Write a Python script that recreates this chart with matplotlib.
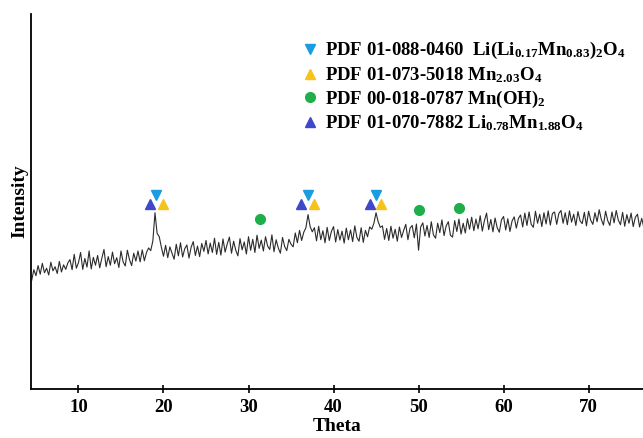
import matplotlib
matplotlib.use("Agg")
import matplotlib.pyplot as plt
from matplotlib.lines import Line2D
import numpy as np

plt.rcParams['font.family'] = ['Liberation Serif', 'DejaVu Serif']
plt.rcParams['font.weight'] = 'bold'
plt.rcParams['mathtext.fontset'] = 'custom'
plt.rcParams['mathtext.rm'] = 'Liberation Serif:bold'
plt.rcParams['mathtext.default'] = 'rm'

# XRD scan (0.25 deg steps from 4.5 deg)
theta_start = 4.5
theta_step = 0.25
intensity = [
    29.0, 31.8, 30.2, 32.9, 30.6, 33.5, 31.0, 32.2, 30.4, 33.8, 31.5, 32.6, 30.8, 34.0, 31.2, 33.1, 31.9, 33.6,
    34.5, 31.8, 35.9, 32.2, 33.7, 36.4, 31.9, 34.8, 32.5, 36.8, 32.0, 35.1, 33.0, 35.6, 32.3, 34.9,
    37.2, 32.6, 35.3, 33.0, 36.5, 33.4, 35.0, 32.4, 36.8, 33.9, 32.8, 37.0, 34.5, 32.9, 36.2, 34.1,
    36.8, 33.9, 37.1, 34.2, 36.4, 37.6, 36.9,
    39.5, 47.0, 41.5, 40.6, 37.8,
    35.4, 38.3, 35.0, 37.9, 36.2, 34.6, 38.6, 35.5, 39.0, 35.2, 37.4, 38.4, 34.9, 37.8, 39.3, 35.6, 38.1, 35.3, 38.8, 36.7,
    39.6, 36.0, 38.9, 36.4, 40.2, 35.9, 39.1, 35.7, 40.0, 36.5, 38.7, 40.5, 36.2, 39.4, 37.0, 35.5, 40.1, 37.1, 39.2, 36.0,
    40.6, 37.0, 39.9, 36.4, 41.0, 37.5, 39.7, 36.8, 40.6, 38.1, 37.2, 41.1, 36.6, 39.8, 37.6, 36.2, 40.4, 38.0, 36.9, 39.9,
    38.6, 37.9, 41.6, 39.0, 42.3, 39.6, 41.8,
    43.0, 46.5, 43.3, 41.9,
    43.0, 39.5, 43.4, 39.8, 42.2, 39.0, 43.1, 39.6, 42.0, 43.3, 39.2, 42.5, 39.7, 42.1, 38.9, 42.9, 39.8, 42.4, 39.3, 43.5,
    40.4, 39.4, 43.0, 39.1, 42.3, 40.6, 43.2, 42.6,
    44.2, 47.0, 44.6, 43.1,
    43.5, 39.9, 42.8, 39.6, 43.4, 40.2, 42.6, 39.4, 43.2, 40.4, 42.3, 43.9, 39.8, 42.9, 43.6, 40.3, 44.0,
    37.0, 43.2,
    44.3, 40.8, 43.6, 40.4, 44.6, 41.1, 40.2, 44.2, 41.7, 45.1, 40.9, 43.5, 44.6, 41.0, 40.5, 44.9, 42.0, 45.3, 41.3, 44.2,
    41.6, 45.4,
    42.6, 45.8, 42.2, 45.3, 42.7, 46.2, 42.1, 44.9, 46.9, 42.5, 45.2, 41.9, 45.6, 43.0, 41.8, 45.1, 46.0, 42.4, 45.4, 42.0,
    44.8, 45.9, 42.9, 45.5,
    46.4, 43.2, 46.9, 43.6, 47.2, 43.9, 43.1, 47.4, 44.2, 46.6, 43.3, 47.0, 44.0, 47.5, 43.7, 46.8,
    47.2, 43.9, 46.8, 47.6, 44.2, 47.0, 43.8, 47.5, 44.5, 46.6, 43.6, 47.3, 44.8, 44.1, 47.1, 43.5, 47.4, 45.0, 43.9, 47.0,
    44.6, 47.8, 45.2, 43.7, 47.4, 44.9, 43.6, 47.2, 44.3, 47.6, 45.0, 43.8, 47.1, 43.4, 46.5, 44.2, 46.9, 43.3, 45.8, 46.6,
    43.2, 45.5, 43.0,
]
theta = theta_start + theta_step * np.arange(len(intensity))

# phase markers
li_limn_x = [19.1, 36.95, 45.0]
li_limn_y = [51.6, 51.6, 51.6]
mn203_x = [19.9, 37.7, 45.6]
mn203_y = [49.4, 49.4, 49.4]
mnoh_x = [31.4, 50.1, 54.7]
mnoh_y = [45.3, 47.7, 48.3]
li078_x = [18.4, 36.2, 44.3]
li078_y = [49.4, 49.4, 49.4]

c_blue = '#1a9de0'
c_yellow = '#f7c31a'
c_green = '#1fae4b'
c_purple = '#3f48c8'

fig = plt.figure(figsize=(6.43, 4.38), dpi=100)
ax = fig.add_axes([0.048, 0.112, 0.952, 0.856])

ax.plot(theta, intensity, color='#2b2b2b', lw=0.8)
ms = 7.5
ax.plot(li_limn_x, li_limn_y, 'v', color=c_blue, ms=ms, ls='none')
ax.plot(mn203_x, mn203_y, '^', color=c_yellow, ms=ms, ls='none')
ax.plot(li078_x, li078_y, '^', color=c_purple, ms=ms, ls='none')
ax.plot(mnoh_x, mnoh_y, 'o', color=c_green, ms=7, ls='none')

ax.set_xlim(4.4, 76.4)
ax.set_ylim(0, 100)
ax.set_xticks([10, 20, 30, 40, 50, 60, 70])
ax.set_yticks([])
ax.tick_params(axis='x', direction='inout', length=6, width=1.2, labelsize=13.5, pad=4)
for s in ['top', 'right']:
    ax.spines[s].set_visible(False)
for s in ['left', 'bottom']:
    ax.spines[s].set_linewidth(1.3)

ax.set_xlabel('Theta', fontsize=14, fontweight='bold', labelpad=2)
ax.set_ylabel('Intensity', fontsize=14, fontweight='bold', labelpad=2)

handles = [
    Line2D([], [], marker='v', color=c_blue, ls='none', ms=7),
    Line2D([], [], marker='^', color=c_yellow, ls='none', ms=7),
    Line2D([], [], marker='o', color=c_green, ls='none', ms=7),
    Line2D([], [], marker='^', color=c_purple, ls='none', ms=7),
]
labels = [
    r'PDF 01-088-0460  Li(Li$_{0.17}$Mn$_{0.83}$)$_2$O$_4$',
    r'PDF 01-073-5018 Mn$_{2.03}$O$_4$',
    r'PDF 00-018-0787 Mn(OH)$_2$',
    r'PDF 01-070-7882 Li$_{0.78}$Mn$_{1.88}$O$_4$',
]
ax.legend(handles, labels, loc='upper left', bbox_to_anchor=(0.432, 0.95),
          frameon=False, fontsize=13.5, handlelength=0.8, handletextpad=0.4,
          labelspacing=0.2, borderaxespad=0)

fig.savefig('out.png', dpi=100)
